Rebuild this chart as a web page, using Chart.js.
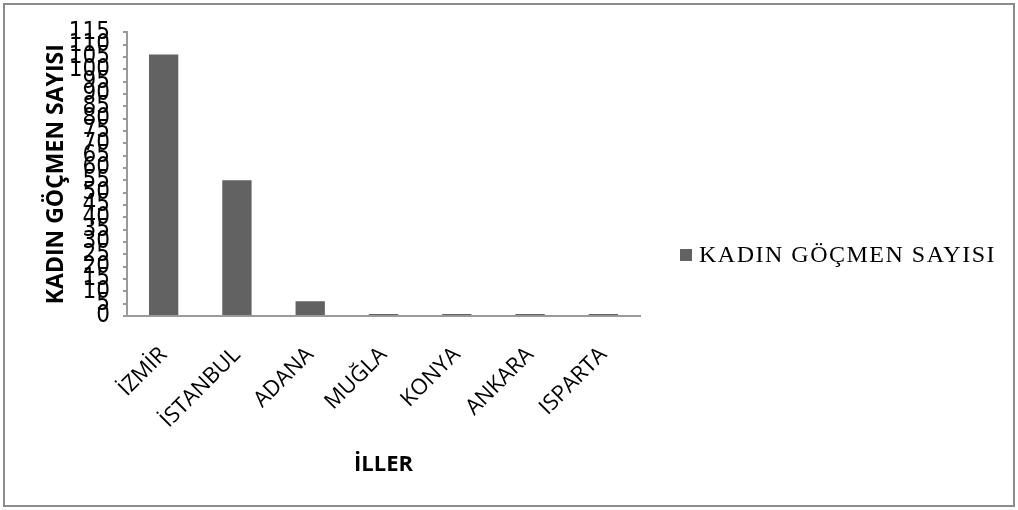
<!DOCTYPE html>
<html>
<head>
<meta charset="utf-8">
<script src="https://cdn.jsdelivr.net/npm/chart.js@4/dist/chart.umd.min.js"></script>
<style>
  body { margin: 0; background: #fff; }
  #wrap {
    position: absolute; left: 3px; top: 3px;
    width: 1012px; height: 504px;
    box-sizing: border-box; border: 2px solid #8c8c8c;
  }
</style>
</head>
<body>
<div id="wrap"><canvas id="chart" width="1008" height="500"></canvas></div>
<script>
const cities = ['İZMİR', 'İSTANBUL', 'ADANA', 'MUĞLA', 'KONYA', 'ANKARA', 'ISPARTA'];
const womenMigrants = [106, 55, 6, 0.8, 0.8, 0.8, 0.8];
const seriesName = 'KADIN GÖÇMEN SAYISI';
const xTitle = 'İLLER';
const yTitle = 'KADIN GÖÇMEN SAYISI';

const axisGray = '#9a9a9a';

// the built-in right legend gets squeezed to a quarter of the width, so draw it here
const sideLegend = {
  id: 'sideLegend',
  afterDraw(chart) {
    const { ctx, chartArea } = chart;
    const ds = chart.data.datasets[0];
    const x = chartArea.right + 40;
    const y = chart.height / 2;
    ctx.save();
    ctx.fillStyle = ds.backgroundColor;
    ctx.fillRect(x, y - 6, 12, 12);
    ctx.fillStyle = '#000';
    ctx.font = '24px "Liberation Serif", "Times New Roman", serif';
    ctx.letterSpacing = '1.5px';
    ctx.textBaseline = 'middle';
    ctx.fillText(ds.label, x + 19, y + 1);
    ctx.restore();
  }
};

// eslint-disable-next-line no-new
new Chart(document.getElementById('chart'), {
  type: 'bar',
  data: {
    labels: cities,
    datasets: [{
      label: seriesName,
      data: womenMigrants,
      backgroundColor: '#626262',
      borderWidth: 0,
      barPercentage: 0.4,
      categoryPercentage: 1
    }]
  },
  plugins: [sideLegend],
  options: {
    responsive: false,
    animation: false,
    layout: { padding: { left: 38, top: 20, bottom: 22, right: 373 } },
    plugins: {
      tooltip: { enabled: false },
      legend: { display: false }
    },
    scales: {
      x: {
        afterFit: (scale) => { scale.height = 167; },
        grid: { display: false },
        border: { color: axisGray, width: 2 },
        ticks: {
          color: '#000',
          minRotation: 45,
          maxRotation: 45,
          padding: 18,
          font: { family: '"Open Sans", sans-serif', size: 22 }
        },
        title: {
          display: true,
          text: xTitle,
          color: '#000',
          padding: { top: 0, bottom: 5 },
          font: { family: '"Open Sans", sans-serif', size: 22, weight: 'bold' }
        }
      },
      y: {
        min: 0,
        max: 115,
        afterFit: (scale) => { scale.width = 84; },
        grid: {
          drawOnChartArea: false,
          tickLength: 4,
          color: axisGray,
          lineWidth: 2
        },
        border: { color: axisGray, width: 2 },
        ticks: {
          stepSize: 5,
          autoSkip: false,
          color: '#000',
          padding: 13,
          font: { family: '"Liberation Sans Narrow", "DejaVu Sans Condensed", sans-serif', size: 24 }
        },
        title: {
          display: true,
          text: yTitle,
          color: '#000',
          padding: { top: 0, bottom: 0 },
          font: { family: '"Open Sans", sans-serif', size: 23, weight: 'bold' }
        }
      }
    }
  }
});
</script>
</body>
</html>
